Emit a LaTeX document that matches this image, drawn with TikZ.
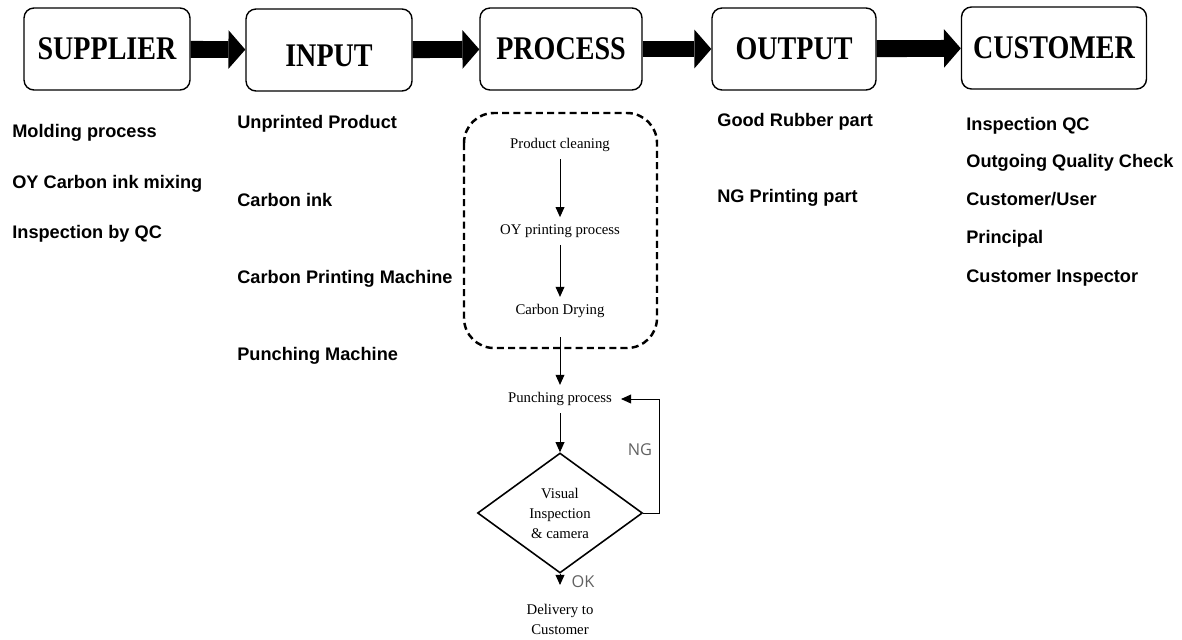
\documentclass[tikz,border=0pt]{standalone}
\usepackage{fontspec}
\setmainfont{Liberation Serif}
\newfontfamily\headfont[FakeStretch=0.85]{Liberation Serif}
\newfontfamily\listfont{Liberation Sans}
\newfontfamily\markfont{Open Sans}
\usetikzlibrary{arrows.meta,shapes.geometric}

\tikzset{
	stage/.style={draw, line width=0.8pt, rounded corners=0.2cm, minimum height=1.64cm, inner sep=0pt,
		font=\headfont\bfseries\fontsize{18.8}{20}\selectfont},
	bigarrow/.style={line width=9.6pt, -{Triangle[width=22pt, length=9.6pt, line width=0pt]}},
	listitem/.style={anchor=base west, inner sep=0pt, font=\listfont\bfseries\fontsize{10.35}{12}\selectfont},
	task/.style={inner xsep=2pt, inner ysep=4pt, font=\fontsize{8.4}{11.4}\selectfont},
	flow/.style={line width=0.55pt, -{Triangle[width=5pt, length=5.7pt]}},
	verdict/.style={text=black!62, inner sep=0pt, font=\markfont\fontsize{9.3}{11}\selectfont}
}

\begin{document}
\begin{tikzpicture}[x=0.02cm, y=-0.02cm]
			\useasboundingbox (0,0) rectangle (1182,639);
			% Specify the stages along the top:
			\node[stage, minimum width=3.32cm] (sup) at (107,49) {SUPPLIER};
			\node[stage, minimum width=3.32cm, text height=19.2pt] (inp) at (329,50) {INPUT};
			\node[stage, minimum width=3.24cm] (prc) at (561,49) {PROCESS};
			\node[stage, minimum width=3.28cm] (out) at (794,49) {OUTPUT};
			\node[stage, minimum width=3.70cm] (cus) at (1054,48) {CUSTOMER};
			% Draw block arrows between stages:
			\draw[bigarrow] (sup) -- (inp);
			\draw[bigarrow] (inp) -- (prc);
			\draw[bigarrow] (prc) -- (out);
			\draw[bigarrow] (out) -- (cus);
			% Specify the supplier items:
			\node[listitem] (sup1) at (12,137) {Molding process};
			\node[listitem] (sup2) at (12,188) {OY Carbon ink mixing};
			\node[listitem] (sup3) at (12,238) {Inspection by QC};
			% Specify the input items:
			\node[listitem] (inp1) at (237,128) {Unprinted Product};
			\node[listitem] (inp2) at (237,206) {Carbon ink};
			\node[listitem] (inp3) at (237,283) {Carbon Printing Machine};
			\node[listitem] (inp4) at (237,360) {Punching Machine};
			% Specify the output items:
			\node[listitem] (out1) at (717,126) {Good Rubber part};
			\node[listitem] (out2) at (717,202) {NG Printing part};
			% Specify the customer items:
			\node[listitem] (cus1) at (966,130) {Inspection QC};
			\node[listitem] (cus2) at (966,167.5) {Outgoing Quality Check};
			\node[listitem] (cus3) at (966,205.5) {Customer/User};
			\node[listitem] (cus4) at (966,243.5) {Principal};
			\node[listitem] (cus5) at (966,282) {Customer Inspector};
			% Specify the process steps:
			\node[task] (clean) at (560,145) {Product cleaning};
			\node[task] (print) at (560,231) {OY printing process};
			\node[task] (dry) at (560,311) {Carbon Drying};
			\node[task] (punch) at (560,399) {Punching process};
			\node[draw, diamond, line width=0.9pt, minimum width=3.3cm, minimum height=2.4cm, aspect=1.375,
				inner sep=0pt, align=center, font=\fontsize{8.4}{11.4}\selectfont] (check) at (560,513)
				{Visual\\Inspection\\\& camera};
			\coordinate (okpt) at (560,585);
			\node[task, align=center] (deliv) at (560,619) {Delivery to\\Customer};
			% Draw dashed group round the printing steps:
			\draw[line width=1.4pt, dash pattern=on 4pt off 2.4pt, rounded corners=0.6cm] (464,113) rectangle (657,348);
			% Draw process flow:
			\draw[flow] (clean) -- (print);
			\draw[flow] (print) -- (dry);
			\draw[flow, shorten <=7pt] (dry) -- (punch);
			\draw[flow] (punch) -- (check);
			\draw[flow] (check.south) -- (okpt);
			\draw[flow, shorten >=3pt] (check.east) -- ++(16,0) |- (punch.east);
			% Specify the decision labels:
			\node[verdict] (ng) at (640,450) {NG};
			\node[verdict] (ok) at (583,582) {OK};
		\end{tikzpicture}
\end{document}
